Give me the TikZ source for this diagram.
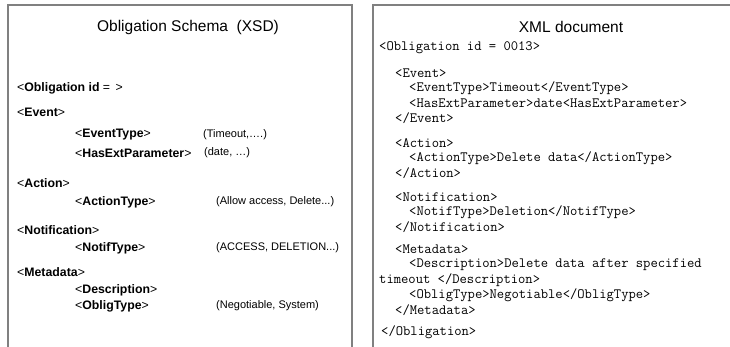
\documentclass[tikz,border=0pt]{standalone}
\usepackage{fontspec}
\setmainfont{Liberation Sans}
\begin{document}
\begin{tikzpicture}[x=1pt,y=-1pt,
  frame/.style={draw=black!50,line width=1.2pt},
  ttl/.style={font=\fontsize{15.5}{18}\selectfont,inner sep=0pt},
  sch/.style={anchor=west,font=\fontsize{12.3}{14}\selectfont,inner sep=0pt},
  val/.style={anchor=west,font=\fontsize{11}{13}\selectfont,inner sep=0pt},
  xml/.style={anchor=west,font=\ttfamily\fontsize{14.2}{16}\selectfont,inner sep=0pt}]
\useasboundingbox (0,0) rectangle (730,347);
\fill[white] (0,0) rectangle (730,347);
% frames
\coordinate (l1) at (8,348); \coordinate (l2) at (8,5); \coordinate (l3) at (352,5); \coordinate (l4) at (352,348);
\draw[frame] (l1) -- (l2) -- (l3) -- (l4);
\coordinate (r1) at (373,348); \coordinate (r2) at (373,5); \coordinate (r3) at (731,5);
\draw[frame] (r1) -- (r2) -- (r3);
% left panel
\node[ttl] (lt) at (188,27) {Obligation Schema\ \ (XSD)};
\node[sch] (s1) at (17,88) {<\textbf{Obligation id} = \,>};
\node[sch] (s2) at (17,112) {<\textbf{Event}>};
\node[sch] (s3) at (75,135) {<\textbf{EventType}>};
\node[val] (v3) at (203,135) {(Timeout,….)};
\node[sch] (s4) at (75,153) {<\textbf{HasExtParameter}>};
\node[val] (v4) at (204,153) {(date, …)};
\node[sch] (s5) at (17,183) {<\textbf{Action}>};
\node[sch] (s6) at (75,202) {<\textbf{ActionType}>};
\node[val] (v6) at (216,202) {(Allow access, Delete...)};
\node[sch] (s7) at (17,230) {<\textbf{Notification}>};
\node[sch] (s8) at (75,248) {<\textbf{NotifType}>};
\node[val] (v8) at (216,248) {(ACCESS, DELETION...)};
\node[sch] (s9) at (17,272) {<\textbf{Metadata}>};
\node[sch] (s10) at (75,290) {<\textbf{Description}>};
\node[sch] (s11) at (75,306) {<\textbf{ObligType}>};
\node[val] (v11) at (216,306) {(Negotiable, System)};
% right panel
\node[ttl] (rt) at (571,27) {XML document};
\node[xml] (x1) at (379,48) {<Obligation id = 0013>};
\node[xml] (x2) at (395,73) {<Event>};
\node[xml] (x3) at (409,88) {<EventType>Timeout</EventType>};
\node[xml] (x4) at (409,103) {<HasExtParameter>date<HasExtParameter>};
\node[xml] (x5) at (395,118) {</Event>};
\node[xml] (x6) at (395,143) {<Action>};
\node[xml] (x7) at (409,158) {<ActionType>Delete data</ActionType>};
\node[xml] (x8) at (395,173) {</Action>};
\node[xml] (x9) at (395,197) {<Notification>};
\node[xml] (x10) at (409,212) {<NotifType>Deletion</NotifType>};
\node[xml] (x11) at (395,227) {</Notification>};
\node[xml] (x12) at (395,249) {<Metadata>};
\node[xml] (x13) at (409,265) {<Description>Delete data after specified};
\node[xml] (x14) at (379,280) {timeout </Description>};
\node[xml] (x15) at (409,295) {<ObligType>Negotiable</ObligType>};
\node[xml] (x16) at (395,310) {</Metadata>};
\node[xml] (x17) at (381,332) {</Obligation>};
\end{tikzpicture}
\end{document}
